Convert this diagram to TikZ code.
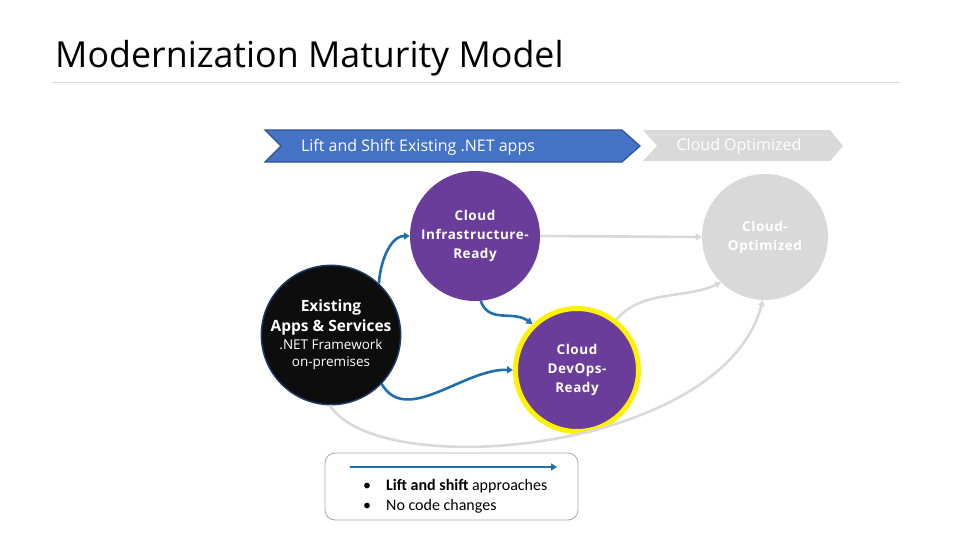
\documentclass[tikz,border=0pt]{standalone}
\usepackage{fontspec}
\setmainfont{Open Sans}
\newfontfamily\calib{Carlito}
\usetikzlibrary{arrows.meta}
\definecolor{chevblue}{HTML}{4472C4}
\definecolor{chevedge}{HTML}{2F528F}
\definecolor{lgray}{HTML}{D9D9D9}
\definecolor{purp}{HTML}{6A3D9A}
\definecolor{conblue}{HTML}{1F6FB0}
\definecolor{darkedge}{HTML}{1F3864}
\definecolor{boxgray}{HTML}{A6A6A6}
\tikzset{
  stagecirc/.style={circle, inner sep=0pt, align=center, text=white, font=\bfseries\fontsize{13.5}{19}\selectfont\addfontfeatures{LetterSpace=4}},
  blueconn/.style={draw=conblue, line width=2.6pt, -{Triangle[length=6pt,width=7pt]}},
  grayconn/.style={draw=lgray, line width=2.6pt, -{Triangle[length=6pt,width=7pt]}},
  legtext/.style={anchor=base west, inner sep=0pt, font=\calib\fontsize{16}{18}\selectfont},
}
\newcommand{\exbold}{\bfseries\fontsize{15.5}{18}\selectfont}
\newcommand{\exreg}{\mdseries\fontsize{13.5}{18}\selectfont}
\begin{document}
\begin{tikzpicture}[x=1pt,y=-1pt]
\useasboundingbox (0,0) rectangle (979,551);
% title
\node[anchor=base west, inner sep=0pt, font=\fontsize{35.8}{38}\selectfont] (title) at (55,67) {Modernization Maturity Model};
\draw[lgray, line width=0.8pt] (52,82) -- (900,82);
% chevrons
\fill[chevblue, draw=chevedge, line width=1.2pt] (265,130) -- (622,130) -- (640,146) -- (622,162) -- (265,162) -- (281,146) -- cycle;
\fill[lgray] (643,130) -- (830,130) -- (843,146) -- (830,161) -- (643,161) -- (657,146) -- cycle;
\node[text=white, font=\fontsize{16}{18}\selectfont, inner sep=0pt] (lbl1) at (418,147) {Lift and Shift Existing .NET apps};
\node[text=white, font=\fontsize{16}{18}\selectfont, inner sep=0pt] (lbl2) at (739,146) {Cloud Optimized};
% circles
\node[stagecirc, fill=purp, minimum size=130pt] (cir) at (475,236) {Cloud\\Infrastructure-\\Ready};
\node[stagecirc, fill=lgray, minimum size=126pt] (co) at (765,237) {Cloud-\\Optimized};
\node[circle, fill=black!95, draw=darkedge, line width=1.5pt, minimum size=127pt, inner sep=0pt, align=center, text=white, font=\fontsize{13.5}{18}\selectfont] (ex) at (331,335) {\exbold Existing\\[2pt]\exbold Apps \& Services\\[0pt]\exreg .NET Framework\\[-1pt]\exreg on-premises};
\node[stagecirc, fill=purp, draw=yellow, line width=5pt, minimum size=123pt] (dev) at (577,370) {Cloud\\DevOps-\\Ready};
% connectors
\draw[blueconn] (ex.47) to[out=88, in=180, looseness=0.9] (cir.180);
\draw[blueconn] (cir.-85) to[out=-70, in=145, looseness=1.1] (dev.134);
\draw[blueconn] (ex.-44) to[out=-60, in=178, looseness=0.95] (dev.180);
\draw[grayconn] (cir.east) -- (co.west);
\draw[grayconn] (dev.52) to[out=50, in=205, looseness=0.9] (co.226);
\draw[grayconn] (ex.-91) .. controls +(50,78) and +(-40,152) .. (co.-92);
% legend
\draw[boxgray, line width=0.8pt, rounded corners=10pt] (325,453) rectangle (578,520);
\coordinate (la) at (350,467);
\coordinate (lb) at (557,467);
\draw[blueconn] (la) -- (lb);
\node[legtext] (b1) at (363,490) {\textbullet};
\node[legtext] (t1) at (386,490) {\textbf{Lift and shift} approaches};
\node[legtext] (b2) at (363,510) {\textbullet};
\node[legtext] (t2) at (386,510) {No code changes};
\end{tikzpicture}
\end{document}
